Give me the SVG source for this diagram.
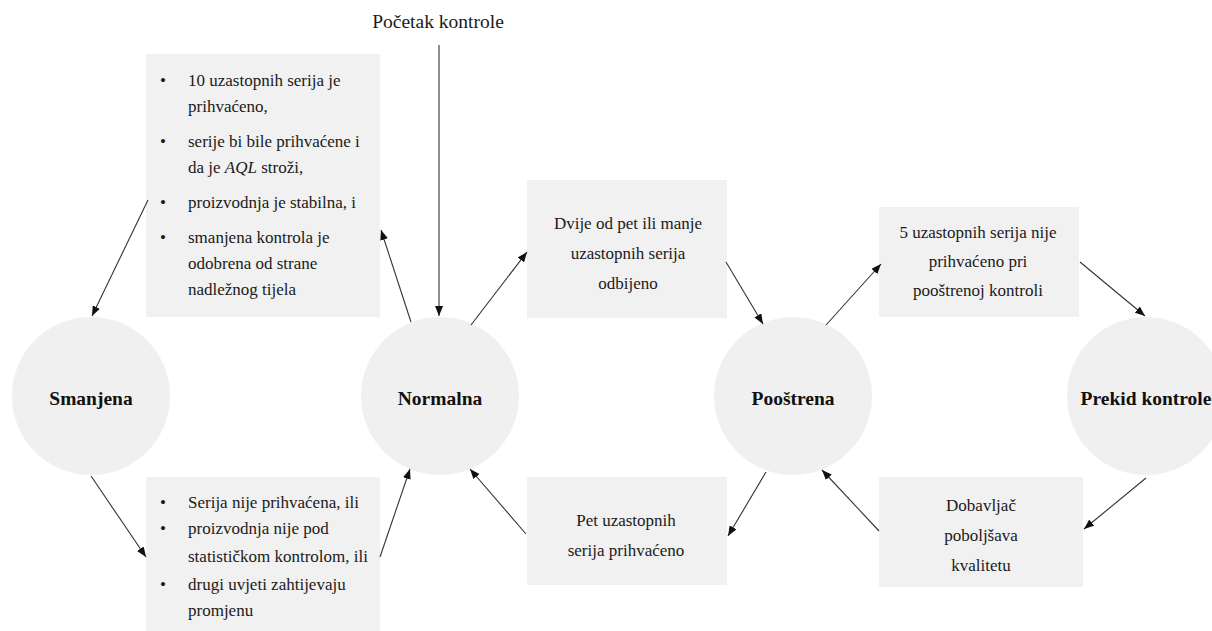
<svg xmlns="http://www.w3.org/2000/svg" width="1212" height="631" viewBox="0 0 1212 631">
<style>
.t{font-family:"Liberation Serif","Times New Roman",serif;font-size:17px;fill:#1a1a1a}
.c{text-anchor:middle}
.b{font-family:"Liberation Serif","Times New Roman",serif;font-size:19.5px;font-weight:bold;fill:#111;text-anchor:middle}
.h{font-family:"Liberation Serif","Times New Roman",serif;font-size:19.5px;fill:#1a1a1a;text-anchor:middle}
.box{fill:#f1f1f1}
.circ{fill:#f0f0f0}
.ln{stroke:#333;stroke-width:1.1;fill:none;marker-end:url(#ah)}
</style>
<defs>
<marker id="ah" markerUnits="userSpaceOnUse" markerWidth="11" markerHeight="8" refX="10" refY="4" orient="auto">
<path d="M0,0 L10,4 L0,8 z" fill="#111"/>
</marker>
</defs>
<rect width="1212" height="631" fill="#fff"/>

<g id="smanjena">
<circle class="circ" cx="91" cy="396" r="79"/>
<text class="b" x="91" y="405">Smanjena</text>
</g>
<g id="normalna">
<circle class="circ" cx="440" cy="396" r="79"/>
<text class="b" x="440" y="405">Normalna</text>
</g>
<g id="postrena">
<circle class="circ" cx="793" cy="396" r="79"/>
<text class="b" x="793" y="405">Pooštrena</text>
</g>
<g id="prekid">
<circle class="circ" cx="1146" cy="396" r="79"/>
<text class="b" x="1146" y="405">Prekid kontrole</text>
</g>

<g id="pocetak">
<text class="h" x="438" y="28">Početak kontrole</text>
</g>

<g id="uvjeti-smanjena">
<rect class="box" x="146" y="54" width="234" height="263"/>
<text class="t" x="160" y="86">•</text><text class="t" x="188" y="86">10 uzastopnih serija je</text>
<text class="t" x="188" y="112">prihvaćeno,</text>
<text class="t" x="160" y="147">•</text><text class="t" x="188" y="147">serije bi bile prihvaćene i</text>
<text class="t" x="188" y="173">da je <tspan font-style="italic">AQL</tspan> stroži,</text>
<text class="t" x="160" y="208">•</text><text class="t" x="188" y="208">proizvodnja je stabilna, i</text>
<text class="t" x="160" y="243">•</text><text class="t" x="188" y="243">smanjena kontrola je</text>
<text class="t" x="188" y="269">odobrena od strane</text>
<text class="t" x="188" y="295">nadležnog tijela</text>
</g>

<g id="uvjeti-normalna">
<rect class="box" x="146" y="477" width="234" height="154"/>
<text class="t" x="160" y="508">•</text><text class="t" x="188" y="508">Serija nije prihvaćena, ili</text>
<text class="t" x="160" y="534">•</text><text class="t" x="188" y="534">proizvodnja nije pod</text>
<text class="t" x="188" y="562">statističkom kontrolom, ili</text>
<text class="t" x="160" y="590">•</text><text class="t" x="188" y="590">drugi uvjeti zahtijevaju</text>
<text class="t" x="188" y="616">promjenu</text>
</g>

<g id="dvije-od-pet">
<rect class="box" x="527" y="180" width="200" height="138"/>
<text class="t c" x="628" y="229">Dvije od pet ili manje</text>
<text class="t c" x="628" y="259">uzastopnih serija</text>
<text class="t c" x="628" y="289">odbijeno</text>
</g>

<g id="pet-prihvaceno">
<rect class="box" x="527" y="477" width="200" height="108"/>
<text class="t c" x="626" y="526">Pet uzastopnih</text>
<text class="t c" x="626" y="556">serija prihvaćeno</text>
</g>

<g id="pet-neprihvaceno">
<rect class="box" x="879" y="207" width="200" height="110"/>
<text class="t c" x="978" y="238">5 uzastopnih serija nije</text>
<text class="t c" x="978" y="267">prihvaćeno pri</text>
<text class="t c" x="978" y="296">pooštrenoj kontroli</text>
</g>

<g id="dobavljac">
<rect class="box" x="879" y="477" width="204" height="110"/>
<text class="t c" x="981" y="511">Dobavljač</text>
<text class="t c" x="981" y="541">poboljšava</text>
<text class="t c" x="981" y="571">kvalitetu</text>
</g>

<g id="connectors">
<line class="ln" x1="148" y1="200" x2="92" y2="316"/>
<line class="ln" x1="411" y1="322" x2="381" y2="230"/>
<line class="ln" x1="439" y1="45" x2="439" y2="316"/>
<line class="ln" x1="471" y1="325" x2="527" y2="252"/>
<line class="ln" x1="726" y1="262" x2="763" y2="324"/>
<line class="ln" x1="826" y1="325" x2="881" y2="264"/>
<line class="ln" x1="1080" y1="262" x2="1145" y2="316"/>
<line class="ln" x1="1146" y1="478" x2="1084" y2="529"/>
<line class="ln" x1="879" y1="531" x2="822" y2="470"/>
<line class="ln" x1="766" y1="472" x2="728" y2="536"/>
<line class="ln" x1="526" y1="534" x2="470" y2="469"/>
<line class="ln" x1="380" y1="557" x2="410" y2="469"/>
<line class="ln" x1="91" y1="476" x2="146" y2="557"/>
</g>
</svg>
